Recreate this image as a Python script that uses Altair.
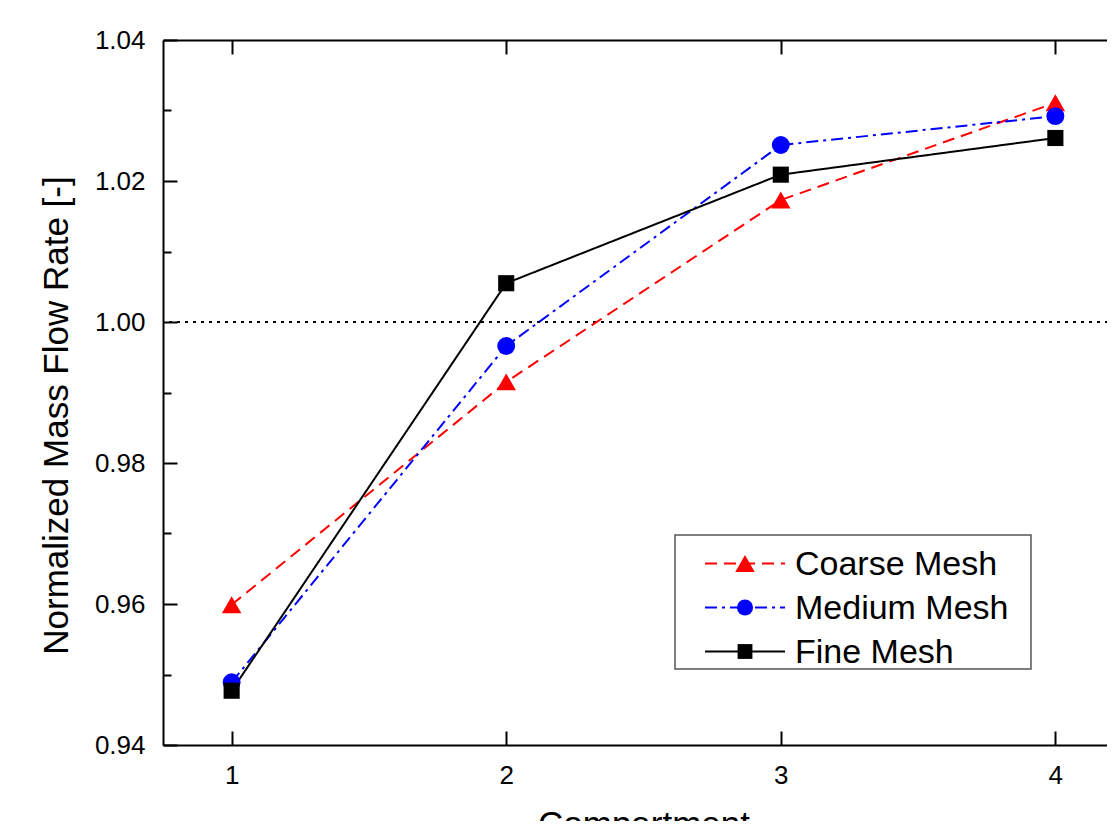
import altair as alt
import pandas as pd

# ---------------- data ----------------
compartments = [1, 2, 3, 4]
series_names = ["Coarse Mesh", "Medium Mesh", "Fine Mesh"]
coarse = [0.9599, 0.9915, 1.0173, 1.0311]
medium = [0.9489, 0.9966, 1.0251, 1.0292]
fine = [0.9477, 1.0055, 1.0209, 1.0261]
x_ticks = [1, 2, 3, 4]
y_major = [0.94, 0.96, 0.98, 1.00, 1.02, 1.04]
y_minor = [0.95, 0.97, 0.99, 1.01, 1.03]
reference_level = [1.00]

# ---------------- styles ----------------
FONT = "Liberation Sans"
colors = ["#ff0000", "#0000ff", "#000000"]
dashes = [[12, 7], [12, 5, 3, 5], [1, 0]]
shapes = ["triangle-up", "circle", "square"]
msizes = [380, 260, 220]
W, H = 961, 705

rows = []
for name, vals in zip(series_names, [coarse, medium, fine]):
    for c, v in zip(compartments, vals):
        rows.append({"compartment": c, "value": v, "series": name})
df = pd.DataFrame(rows)

xs = alt.Scale(domain=[0.75, 4.25], nice=False, zero=False)
ys = alt.Scale(domain=[0.94, 1.04], nice=False, zero=False)

common = dict(grid=False, domainColor="black", tickColor="black",
              domainWidth=2, tickWidth=2, labelFont=FONT, titleFont=FONT,
              labelColor="black", titleColor="black")

ax_bottom = alt.Axis(orient="bottom", values=x_ticks, ticks=False, format="d",
                     labelFontSize=26, labelPadding=17, labelFlush=False,
                     title="Compartment", titleFontSize=35,
                     titleFontWeight="normal", titlePadding=19, **common)
ax_bottom_ticks = alt.Axis(orient="top", offset=-H, values=x_ticks, tickSize=14,
                           labels=False, domain=False, title=None, **common)
ax_top_ticks = alt.Axis(orient="bottom", offset=-H, values=x_ticks, tickSize=14,
                        labels=False, domain=True, title=None, **common)

ax_left = alt.Axis(orient="left", values=y_major, ticks=False, format=".2f",
                   labelFontSize=26, labelPadding=18,
                   title="Normalized Mass Flow Rate [-]", titleFontSize=35,
                   titleFontWeight="normal", titlePadding=20, titleY=375, **common)
ax_left_major = alt.Axis(orient="right", offset=-W, values=y_major, tickSize=14,
                         labels=False, domain=False, title=None, **common)
ax_left_minor = alt.Axis(orient="right", offset=-W, values=y_minor, tickSize=8,
                         labels=False, domain=False, title=None, **common)
ax_right_major = alt.Axis(orient="left", offset=-W, values=y_major, tickSize=14,
                          labels=False, domain=True, title=None, **common)
ax_right_minor = alt.Axis(orient="left", offset=-W, values=y_minor, tickSize=8,
                          labels=False, domain=False, title=None, **common)


def axis_layer(xaxis, yaxis):
    return alt.Chart(df).mark_point(opacity=0).encode(
        x=alt.X("compartment:Q", scale=xs, axis=xaxis),
        y=alt.Y("value:Q", scale=ys, axis=yaxis),
    )


axes_layers = [
    axis_layer(ax_bottom, ax_left),
    axis_layer(ax_bottom_ticks, ax_left_major),
    axis_layer(ax_top_ticks, ax_left_minor),
    axis_layer(None, ax_right_major),
    axis_layer(None, ax_right_minor),
]

ref = alt.Chart(pd.DataFrame({"v": reference_level})).mark_rule(
    color="black", strokeWidth=1.8, strokeDash=[3, 5]
).encode(y=alt.Y("v:Q", scale=ys, axis=None))

lines = alt.Chart(df).mark_line(strokeWidth=2).encode(
    x=alt.X("compartment:Q", scale=xs, axis=None),
    y=alt.Y("value:Q", scale=ys, axis=None),
    color=alt.Color("series:N", scale=alt.Scale(domain=series_names, range=colors), legend=None),
    strokeDash=alt.StrokeDash("series:N", scale=alt.Scale(domain=series_names, range=dashes), legend=None),
    detail="series:N",
)

points = alt.Chart(df).mark_point(filled=True, opacity=1).encode(
    x=alt.X("compartment:Q", scale=xs, axis=None),
    y=alt.Y("value:Q", scale=ys, axis=None),
    color=alt.Color("series:N", scale=alt.Scale(domain=series_names, range=colors), legend=None),
    shape=alt.Shape("series:N", scale=alt.Scale(domain=series_names, range=shapes), legend=None),
    size=alt.Size("series:N", scale=alt.Scale(domain=series_names, range=msizes), legend=None),
)

# ---------------- manual legend ----------------
one = pd.DataFrame({"a": [0]})
legend_layers = [
    alt.Chart(one).mark_rect(fill="white", stroke="#555555", strokeWidth=1.5).encode(
        x=alt.value(512), x2=alt.value(868), y=alt.value(495), y2=alt.value(629))
]
for i, name in enumerate(series_names):
    base_y = 535 + 44 * i
    cy = base_y - 11.5
    legend_layers.append(
        alt.Chart(one).mark_rule(color=colors[i], strokeWidth=2, strokeDash=dashes[i]).encode(
            x=alt.value(542), x2=alt.value(622), y=alt.value(cy)))
    legend_layers.append(
        alt.Chart(one).mark_point(filled=True, opacity=1, color=colors[i],
                                  shape=shapes[i], size=msizes[i]).encode(
            x=alt.value(582), y=alt.value(cy)))
    legend_layers.append(
        alt.Chart(one).mark_text(text=name, font=FONT, fontSize=34, color="black",
                                 align="left", baseline="alphabetic").encode(
            x=alt.value(632), y=alt.value(base_y)))

chart = alt.layer(
    *axes_layers, ref, lines, points, *legend_layers
).resolve_axis(x="independent", y="independent").properties(
    width=W, height=H,
    autosize=alt.AutoSizeParams(type="none"),
    padding={"left": 155, "top": 32, "right": -17, "bottom": 76},
).configure_view(stroke=None).configure(background="white")

chart.save("out.html", embed_options={"renderer": "svg", "actions": False})
